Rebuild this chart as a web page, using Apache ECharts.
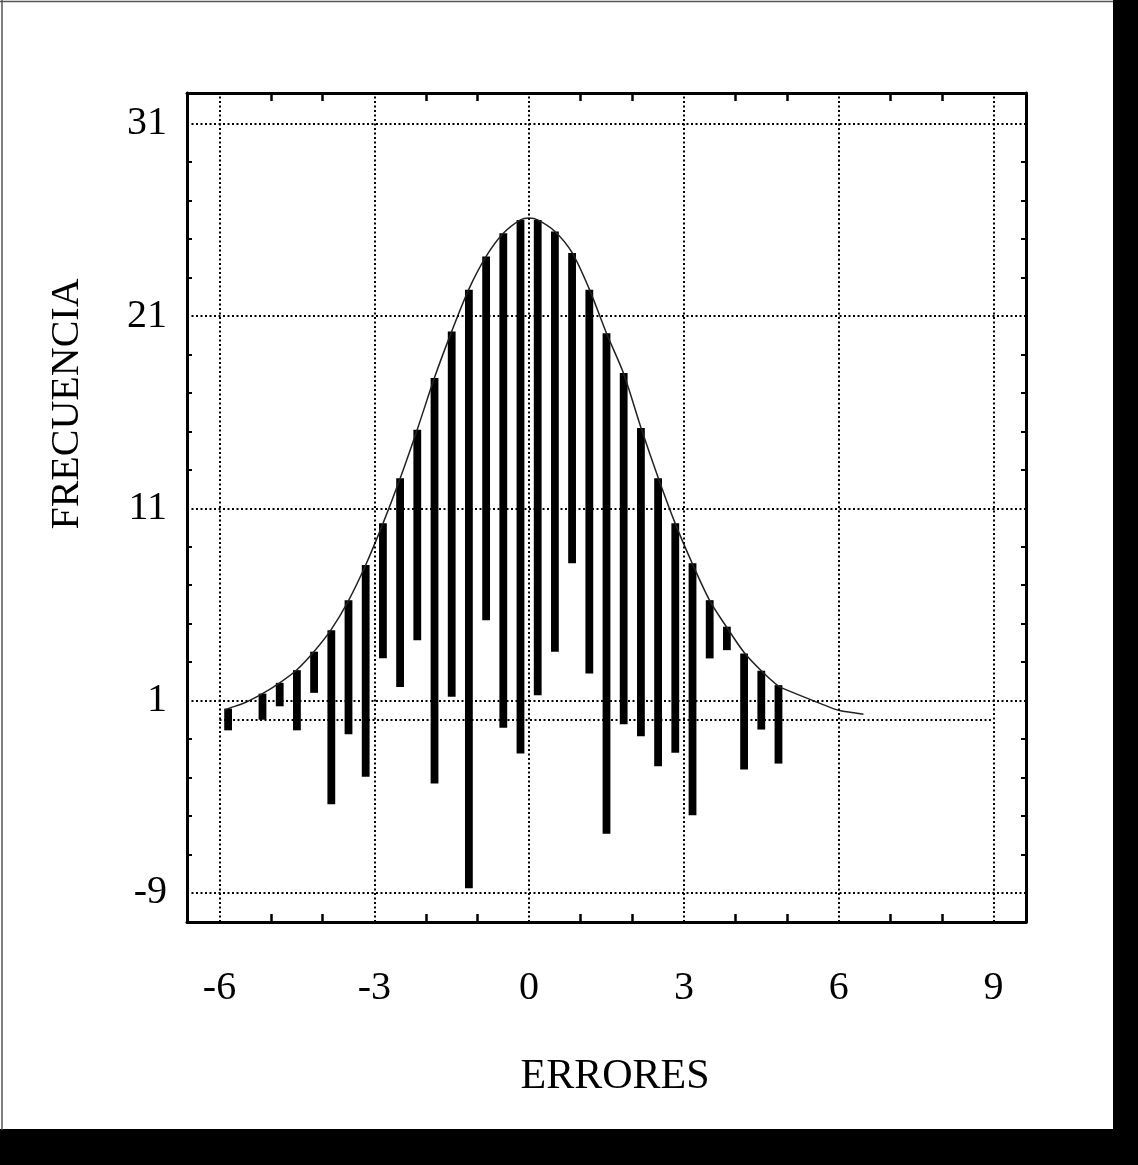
<!DOCTYPE html>
<html>
<head>
<meta charset="utf-8">
<script src="https://cdn.jsdelivr.net/npm/echarts@6/dist/echarts.min.js"></script>
<style>
html,body{margin:0;padding:0;background:#fff;}
#chart{width:1138px;height:1165px;}
</style>
</head>
<body>
<div id="chart"></div>
<script>
// ---- data ----
const barX = [-5.833, -5.167, -4.833, -4.5, -4.167, -3.833, -3.5, -3.167, -2.833, -2.5, -2.167, -1.833, -1.5, -1.167, -0.833, -0.5, -0.167, 0.167, 0.5, 0.833, 1.167, 1.5, 1.833, 2.167, 2.5, 2.833, 3.167, 3.5, 3.833, 4.167, 4.5, 4.833];
const barHigh = [0.58, 1.36, 1.92, 2.58, 3.54, 4.66, 6.22, 8.05, 10.22, 12.56, 15.08, 17.77, 20.2, 22.37, 24.1, 25.3, 26.0, 26.0, 25.4, 24.28, 22.37, 20.1, 18.03, 15.17, 12.56, 10.22, 8.14, 6.22, 4.84, 3.45, 2.55, 1.8];
const barLow = [-0.55, 0.0, 0.7, -0.55, 1.4, -4.4, -0.75, -2.97, 3.2, 1.7, 4.14, -3.32, 1.19, -8.76, 5.18, -0.41, -1.76, 1.28, 3.54, 8.14, 2.41, -5.93, -0.23, -0.86, -2.42, -1.72, -4.97, 3.19, 3.62, -2.59, -0.51, -2.28];

const curveX = [-5.9, -5.833, -5.5, -5.167, -4.833, -4.5, -4.167, -3.833, -3.5, -3.167, -2.833, -2.5, -2.167, -1.833, -1.5, -1.167, -0.833, -0.5, -0.167, 0, 0.167, 0.5, 0.833, 1.167, 1.5, 1.833, 2.167, 2.5, 2.833, 3.167, 3.5, 3.833, 4.167, 4.5, 4.833, 5.0, 5.65, 6.0, 6.48];
const curveY = [0.5, 0.58, 0.9, 1.36, 1.92, 2.6, 3.55, 4.7, 6.2, 8.05, 10.2, 12.55, 15.1, 17.8, 20.2, 22.4, 24.1, 25.3, 26.0, 26.1, 26.0, 25.4, 24.3, 22.4, 20.1, 18.0, 15.2, 12.6, 10.2, 8.1, 6.2, 4.8, 3.5, 2.55, 1.75, 1.54, 0.84, 0.49, 0.29];

const xTickLabels = [-6, -3, 0, 3, 6, 9];
const yTickLabels = [31, 21, 11, 1, -9];
const xMinorTicks = [-5, -4, -2, -1, 1, 2, 4, 5, 7, 8];
const yMinorTicks = [29, 27, 25, 23, 19, 17, 15, 13, 9, 7, 5, 3, -1, -3, -5, -7];
const baseLine = [[-6, 0], [9, 0]];

const xTitle = 'ERRORES';
const yTitle = 'FRECUENCIA';

// ---- chart ----
const X_MIN = -6.63, X_MAX = 9.63, Y_MIN = -10.52, Y_MAX = 32.6;
const serif = 'Liberation Serif, Times New Roman, serif';

const chart = echarts.init(document.getElementById('chart'), null, {renderer: 'canvas'});

function xAxisCfg(pos, labels) {
  return {
    type: 'value', position: pos, min: X_MIN, max: X_MAX,
    axisLine: {show: true, onZero: false, lineStyle: {color: '#000', width: 3}},
    axisTick: {show: true, inside: true, length: 8, customValues: xMinorTicks, lineStyle: {color: '#000', width: 2.5}},
    axisLabel: labels ? {show: true, customValues: xTickLabels, margin: 46, fontFamily: serif, fontSize: 40, color: '#000'} : {show: false},
    splitLine: {show: false}
  };
}
function yAxisCfg(pos, labels) {
  return {
    type: 'value', position: pos, min: Y_MIN, max: Y_MAX,
    axisLine: {show: true, onZero: false, lineStyle: {color: '#000', width: 3}},
    axisTick: {show: true, inside: true, length: 5, customValues: yMinorTicks, lineStyle: {color: '#000', width: 2}},
    axisLabel: labels ? {show: true, customValues: yTickLabels, margin: 20, fontFamily: serif, fontSize: 40, color: '#000'} : {show: false},
    splitLine: {show: false}
  };
}

const gridLineStyle = {color: '#000', width: 2, type: [2, 2.5]};

const option = {
  animation: false,
  backgroundColor: '#fff',
  grid: {left: 187, right: 112, top: 93, bottom: 243, containLabel: false},
  xAxis: [xAxisCfg('bottom', true), xAxisCfg('top', false)],
  yAxis: [yAxisCfg('left', true), yAxisCfg('right', false)],
  series: [
    {
      type: 'line', data: [], z: 1, silent: true,
      markLine: {
        silent: true, symbol: ['none', 'none'], label: {show: false},
        lineStyle: gridLineStyle,
        data: xTickLabels.map(v => ({xAxis: v}))
          .concat(yTickLabels.map(v => ({yAxis: v})))
          .concat([[{coord: baseLine[0]}, {coord: baseLine[1]}]])
      }
    },
    {
      type: 'custom', z: 3, silent: true,
      data: barX.map((x, i) => [x, barLow[i], barHigh[i]]),
      encode: {x: 0, y: [1, 2]},
      renderItem: function (params, api) {
        const x = api.value(0);
        const p1 = api.coord([x, api.value(2)]);
        const p2 = api.coord([x, api.value(1)]);
        const w = 7.8;
        return {
          type: 'rect',
          shape: {x: p1[0] - w / 2, y: p1[1], width: w, height: p2[1] - p1[1]},
          style: {fill: '#000'}
        };
      }
    },
    {
      type: 'line', z: 4, silent: true, smooth: 0.3, showSymbol: false,
      data: curveX.map((x, i) => [x, curveY[i]]),
      lineStyle: {color: '#222', width: 1.5}
    }
  ],
  graphic: [
    {type: 'rect', left: 1113, top: 0, shape: {width: 25, height: 1165}, style: {fill: '#000'}, z: 10},
    {type: 'rect', left: 0, top: 1129, shape: {width: 1138, height: 36}, style: {fill: '#000'}, z: 10},
    {type: 'line', shape: {x1: 0, y1: 1.5, x2: 1113, y2: 1.5}, style: {stroke: '#555', lineWidth: 1.5}, z: 10},
    {type: 'line', shape: {x1: 2, y1: 0, x2: 2, y2: 1130}, style: {stroke: '#555', lineWidth: 1.5}, z: 10},
    {type: 'text', x: 615, y: 1077, style: {text: xTitle, font: '42px ' + serif, fill: '#000', align: 'center', verticalAlign: 'middle'}, z: 10},
    {type: 'text', x: 67, y: 404, rotation: Math.PI / 2, style: {text: yTitle, font: '40px ' + serif, fill: '#000', align: 'center', verticalAlign: 'middle'}, z: 10}
  ]
};
chart.setOption(option);
</script>
</body>
</html>
